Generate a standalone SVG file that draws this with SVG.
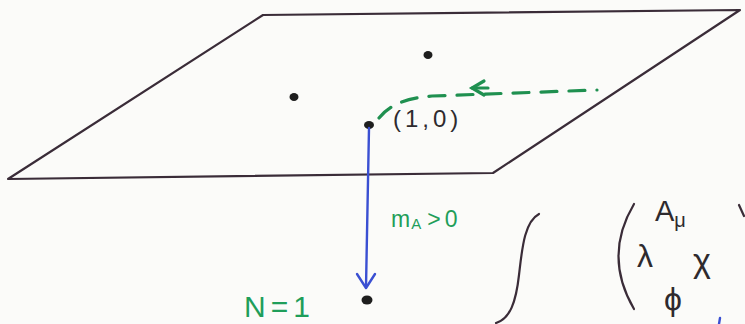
<svg xmlns="http://www.w3.org/2000/svg" width="745" height="324" viewBox="0 0 745 324">
<defs>
<style>
.ink{fill:none;stroke:#3a2c38;stroke-width:2.2;stroke-linecap:round;stroke-linejoin:round}
.dot{fill:#1e1e1e}
.green{fill:#1f9e5a;font-family:"Liberation Sans",Arial,sans-serif}
.dark{fill:#2e2a2e;font-family:"Liberation Sans",Arial,sans-serif}
.gline{fill:none;stroke:#1f9050;stroke-width:3.2;stroke-linecap:round}
.bline{fill:none;stroke:#3a4fd2;stroke-width:2.4;stroke-linecap:round;stroke-linejoin:round}
</style>
</defs>
<rect width="745" height="324" fill="#fbfbf9"/>
<g id="plane">
<polygon class="ink" points="263,15 740,10 493,173 8,179"/>
</g>
<g id="point-a"><ellipse class="dot" cx="428" cy="55" rx="4.5" ry="4"/></g>
<g id="point-b"><ellipse class="dot" cx="294" cy="97" rx="4.5" ry="4"/></g>
<g id="point-10">
<ellipse class="dot" cx="369" cy="125" rx="5" ry="4"/>
<text class="dark" x="393" y="127" font-size="24" letter-spacing="4">(1,0)</text>
</g>
<g id="point-n1">
<ellipse class="dot" cx="367" cy="300" rx="5.5" ry="4.5"/>
<text class="green" x="244" y="317" font-size="30" letter-spacing="5">N=1</text>
</g>
<g id="fields">
<path class="ink" d="M539,214 C524,222 522,250 519,275 C516,302 510,319 496,323"/>
<path class="ink" d="M634,204 Q603,256 634,309"/>
<path class="ink" d="M739,205 L744,216"/>
<text class="dark" x="655" y="221" font-size="29">A<tspan font-size="20" dy="6">μ</tspan></text>
<text class="dark" x="637" y="267" font-size="32">λ</text>
<text class="dark" x="693" y="272" font-size="34">χ</text>
<text class="dark" x="664" y="310" font-size="32">ϕ</text>
<path class="bline" d="M720,318 L719,324"/>
</g>
<g id="connectors">
<path class="gline" d="M379,118 C390,104 408,98 432,96 L597,90" stroke-dasharray="16 12"/>
<polyline class="gline" points="484,81 472,88 484,95"/>
<line class="gline" x1="472" y1="88" x2="488" y2="88"/>
<path class="bline" d="M369,128 L366,287"/>
<polyline class="bline" points="357,274 366,288 375,274"/>
<text class="green" x="391" y="227" font-size="23">m<tspan font-size="15" dy="2" dx="1">A</tspan><tspan dy="-2" dx="6">&gt;</tspan><tspan dx="4">0</tspan></text>
</g>
</svg>
